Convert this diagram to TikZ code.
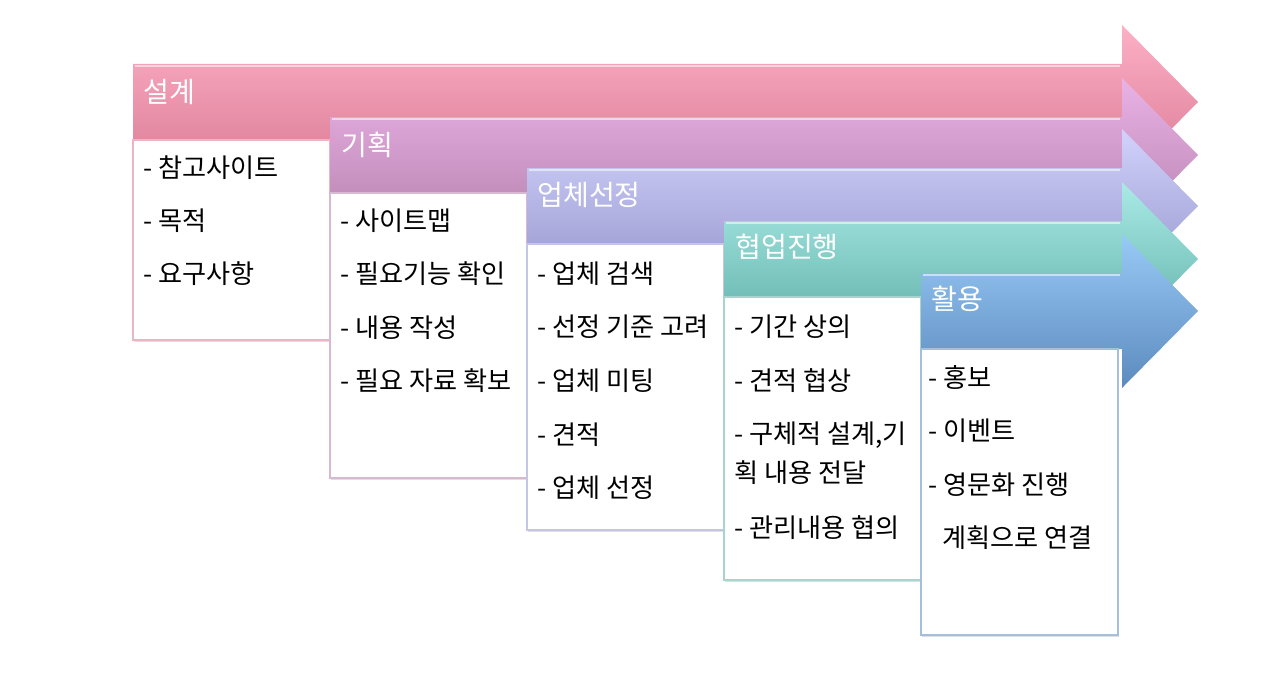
\documentclass[tikz,border=0pt]{standalone}
\usepackage{fontspec}
\setmainfont{Noto Sans CJK KR}
\usetikzlibrary{shadows}

\definecolor{pinktop}{RGB}{252,176,198}
\definecolor{pinkbot}{RGB}{218,122,148}
\definecolor{mauvetop}{RGB}{234,178,230}
\definecolor{mauvebot}{RGB}{182,130,174}
\definecolor{lavtop}{RGB}{210,210,252}
\definecolor{lavbot}{RGB}{150,150,205}
\definecolor{tealtop}{RGB}{170,234,230}
\definecolor{tealbot}{RGB}{96,176,168}
\definecolor{bluetop}{RGB}{152,202,246}
\definecolor{bluebot}{RGB}{92,138,190}

\tikzset{
  stage/.style={top color=#1top, bottom color=#1bot, draw=none},
  bevel/.style={draw=white, opacity=0.55, line width=1.2pt},
  itembox/.style={fill=white, draw=#1bot!55!white, line width=0.9pt,
    drop shadow={shadow xshift=0.8pt, shadow yshift=-1pt, opacity=0.25}},
  title/.style={anchor=west, inner sep=0pt, text=white,
    font=\fontsize{16}{18}\selectfont},
  item/.style={anchor=west, inner sep=0pt, text=black,
    font=\fontsize{14.9}{17}\selectfont}
}

\begin{document}
\begin{tikzpicture}[x=0.02cm, y=-0.02cm]
  \useasboundingbox (0,0) rectangle (1280,679);

  %Stage 1
  \path[stage=pink] (133,64) -- (1122,64) -- (1122,25) -- (1198,102) -- (1122,179) -- (1122,140) -- (133,140) -- cycle;
  \draw[bevel] (135,66) -- (1120,66);
  \path[itembox=pink] (133,140) rectangle (330,340);
  \node[title] at (143,92)  (sgye)  {설계};
  \node[item]  at (143,168) (sgye1) {- 참고사이트};
  \node[item]  at (143,221) (sgye2) {- 목적};
  \node[item]  at (143,274) (sgye3) {- 요구사항};

  %Stage 2
  \path[stage=mauve] (330,117) -- (1122,117) -- (1122,78) -- (1198,155) -- (1122,232) -- (1122,193) -- (330,193) -- cycle;
  \draw[bevel] (332,119) -- (1120,119);
  \path[itembox=mauve] (330,193) rectangle (527,478);
  \node[title] at (341,145) (gihoek)  {기획};
  \node[item]  at (340,221) (gihoek1) {- 사이트맵};
  \node[item]  at (340,274) (gihoek2) {- 필요기능 확인};
  \node[item]  at (340,328) (gihoek3) {- 내용 작성};
  \node[item]  at (340,381) (gihoek4) {- 필요 자료 확보};

  %Stage 3
  \path[stage=lav] (527,168) -- (1122,168) -- (1122,129) -- (1198,206) -- (1122,283) -- (1122,244) -- (527,244) -- cycle;
  \draw[bevel] (529,170) -- (1120,170);
  \path[itembox=lav] (527,244) rectangle (724,530);
  \node[title] at (537,195) (seonjeong)  {업체선정};
  \node[item]  at (537,274) (seonjeong1) {- 업체 검색};
  \node[item]  at (537,327) (seonjeong2) {- 선정 기준 고려};
  \node[item]  at (537,381) (seonjeong3) {- 업체 미팅};
  \node[item]  at (537,435) (seonjeong4) {- 견적};
  \node[item]  at (537,488) (seonjeong5) {- 업체 선정};

  %Stage 4
  \path[stage=teal] (724,221) -- (1122,221) -- (1122,182) -- (1198,259) -- (1122,336) -- (1122,297) -- (724,297) -- cycle;
  \draw[bevel] (726,223) -- (1120,223);
  \path[itembox=teal] (724,297) rectangle (921,580);
  \node[title] at (735,247) (hyeobeop)  {협업진행};
  \node[item]  at (734,327) (hyeobeop1) {- 기간 상의};
  \node[item]  at (734,381) (hyeobeop2) {- 견적 협상};
  \node[item]  at (734,435) (hyeobeop3) {- 구체적 설계,기};
  \node[item]  at (734,473) (hyeobeop3b) {획 내용 전달};
  \node[item]  at (734,528) (hyeobeop4) {- 관리내용 협의};

  %Stage 5
  \path[stage=blue] (921,273) -- (1122,273) -- (1122,234) -- (1198,311) -- (1122,388) -- (1122,349) -- (921,349) -- cycle;
  \draw[bevel] (923,275) -- (1120,275);
  \path[itembox=blue] (921,349) rectangle (1118,635);
  \node[title] at (931,299) (hwalyong)  {활용};
  \node[item]  at (928,378) (hwalyong1) {- 홍보};
  \node[item]  at (928,431) (hwalyong2) {- 이벤트};
  \node[item]  at (928,485) (hwalyong3) {- 영문화 진행};
  \node[item]  at (942,538) (hwalyong3b) {계획으로 연결};
\end{tikzpicture}
\end{document}
